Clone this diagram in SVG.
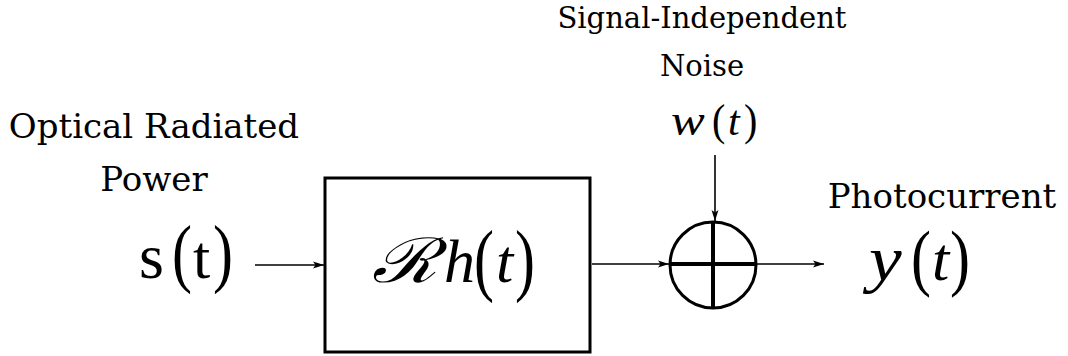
<svg xmlns="http://www.w3.org/2000/svg" width="1068" height="356" viewBox="0 0 1068 356">
<style>
.lbl{font-family:"DejaVu Serif",serif;fill:#000;text-anchor:middle}
.m{fill:#000}
.conn{stroke:#000;stroke-width:1.6;fill:none}
</style>
<defs>
<marker id="ah" markerWidth="12" markerHeight="8" refX="11" refY="4" orient="auto" markerUnits="userSpaceOnUse">
<path d="M0,0.5 L11,4 L0,7.5 L2.5,4 Z" fill="#000"/>
</marker>
</defs>
<rect width="1068" height="356" fill="#fff"/>
<g id="input">
<text class="lbl" x="154" y="138" font-size="34">Optical Radiated</text>
<text class="lbl" x="154" y="191" font-size="34">Power</text>
<text class="m" font-family="Liberation Serif" x="139" y="278" font-size="64">s</text>
<text class="m" font-family="Liberation Serif" font-size="60" transform="translate(172,278) scale(1,1.27)">(</text>
<text class="m" font-family="Liberation Serif" x="193" y="278" font-size="62">t</text>
<text class="m" font-family="Liberation Serif" font-size="60" transform="translate(213,278) scale(1,1.27)">)</text>
</g>
<g id="channel">
<rect x="325" y="178" width="265" height="174" fill="none" stroke="#000" stroke-width="3"/>
<text class="m" font-family="DejaVu Serif" font-style="italic" font-size="62" transform="translate(372,282) scale(1.2,1)">ℛ</text>
<text class="m" font-family="Liberation Serif" font-style="italic" x="444" y="282" font-size="62">h</text>
<text class="m" font-family="Liberation Serif" font-size="60" transform="translate(474,286) scale(1,1.33)">(</text>
<text class="m" font-family="Liberation Serif" font-style="italic" x="496" y="282" font-size="62">t</text>
<text class="m" font-family="Liberation Serif" font-size="60" transform="translate(515,286) scale(1,1.33)">)</text>
</g>
<g id="noise">
<text class="lbl" x="702" y="28" font-size="29">Signal-Independent</text>
<text class="lbl" x="702" y="76" font-size="29">Noise</text>
<text class="m" font-family="Liberation Serif" font-style="italic" font-size="44" transform="translate(671,135) scale(1.15,1)">w</text>
<text class="m" font-family="Liberation Serif" font-size="40" transform="translate(712,135) scale(1,1.11)">(</text>
<text class="m" font-family="Liberation Serif" font-style="italic" x="728" y="135" font-size="42">t</text>
<text class="m" font-family="Liberation Serif" font-size="40" transform="translate(744,135) scale(1,1.11)">)</text>
</g>
<g id="sum">
<circle cx="713" cy="265" r="43" fill="none" stroke="#000" stroke-width="3"/>
<line x1="670" y1="264" x2="756" y2="264" stroke="#000" stroke-width="4"/>
<line x1="713" y1="222" x2="713" y2="308" stroke="#000" stroke-width="4"/>
</g>
<g id="output">
<text class="lbl" x="942" y="208" font-size="34">Photocurrent</text>
<text class="m" font-family="Liberation Serif" font-style="italic" font-size="64" transform="translate(869,280) scale(1.15,1)">y</text>
<text class="m" font-family="Liberation Serif" font-size="60" transform="translate(911,282) scale(1,1.23)">(</text>
<text class="m" font-family="Liberation Serif" font-style="italic" x="932" y="280" font-size="62">t</text>
<text class="m" font-family="Liberation Serif" font-size="60" transform="translate(950,282) scale(1,1.23)">)</text>
</g>
<g id="connectors">
<line class="conn" x1="255" y1="265" x2="324" y2="265" marker-end="url(#ah)"/>
<line class="conn" x1="592" y1="264" x2="669" y2="264" marker-end="url(#ah)"/>
<line class="conn" x1="757" y1="264" x2="824" y2="264" marker-end="url(#ah)"/>
<line class="conn" x1="715" y1="155" x2="715" y2="221" marker-end="url(#ah)"/>
</g>
</svg>
